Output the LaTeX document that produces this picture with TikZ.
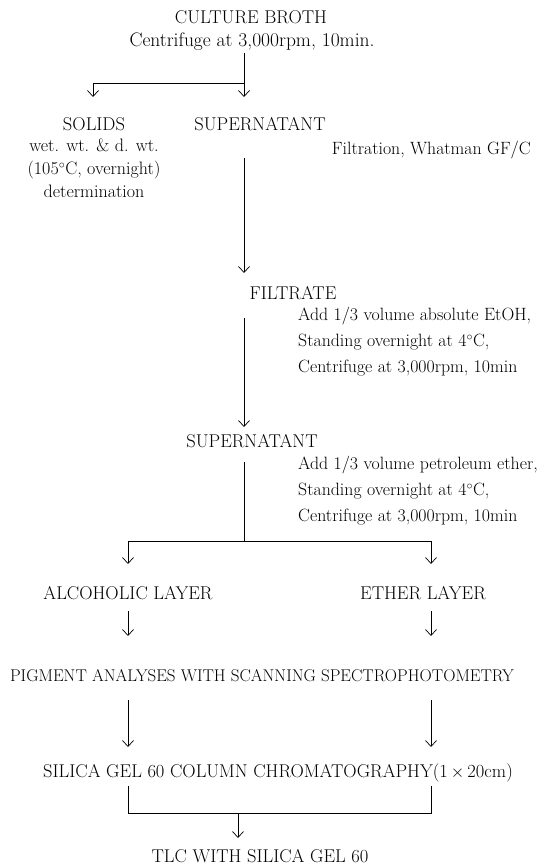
\documentclass[tikz,border=0pt]{standalone}
\usetikzlibrary{positioning,arrows.meta}

\tikzset{
  stage/.style={inner sep=0pt,font=\fontsize{18.5}{22}\selectfont},
  note/.style={inner sep=0pt,align=left,font=\fontsize{17.8}{26}\selectfont},
  flow/.style={-{Straight Barb[length=6pt,width=11pt]},line width=0.7pt},
  link/.style={line width=0.7pt}
}

\begin{document}
\begin{tikzpicture}[x=1pt,y=-1pt]
      \useasboundingbox (0,0) rectangle (537,867);
      % Culture broth
      \node[stage] (broth) at (251,17) {CULTURE BROTH};
      \node[stage,font=\fontsize{19.5}{22}\selectfont] (spin1) at (252,42) {Centrifuge at 3,000rpm, 10min.};
      % Solids
      \node[stage] (solids) at (94,124) {SOLIDS};
      \node[stage,align=center,font=\fontsize{18}{23}\selectfont,below=8pt of solids] (solidsnote) {wet. wt. \& d. wt.\\(105$^{\circ}$C, overnight)\\determination};
      % Supernatant
      \node[stage] (sup1) at (260,124) {SUPERNATANT};
      \node[note,anchor=east] (filtnote) at (531,150) {Filtration, Whatman GF/C};
      % Filtrate
      \node[stage] (filtrate) at (293,293) {FILTRATE};
      \node[note,anchor=north west] (etohnote) at (298,307) {Add 1/3 volume absolute EtOH,\\Standing overnight at 4$^{\circ}$C,\\Centrifuge at 3,000rpm, 10min};
      % Second supernatant
      \node[stage] (sup2) at (252,441) {SUPERNATANT};
      \node[note,anchor=north west] (ethernote) at (298,456) {Add 1/3 volume petroleum ether,\\Standing overnight at 4$^{\circ}$C,\\Centrifuge at 3,000rpm, 10min};
      % Layers
      \node[stage] (alc) at (128,593) {ALCOHOLIC LAYER};
      \node[stage] (ether) at (423,593) {ETHER LAYER};
      % Analyses
      \node[stage,font=\fontsize{17}{20}\selectfont] (pigment) at (262,676) {PIGMENT ANALYSES WITH SCANNING SPECTROPHOTOMETRY};
      \node[stage] (silica) at (278,773) {SILICA GEL 60 COLUMN CHROMATOGRAPHY(1\,$\times$\,20cm)};
      \node[stage] (tlc) at (260,856) {TLC WITH SILICA GEL 60};
      % junctions and ends
      \coordinate (j1) at (244,83);
      \coordinate (j2) at (244,541);
      \coordinate (jl) at (128,541);
      \coordinate (jr) at (431,541);
      \coordinate (j3) at (238,813);
      \coordinate (cl) at (128,813);
      \coordinate (cr) at (431,813);
      % centrifuge split
      \draw[link] (244,53) -- (j1) -- (93,83);
      \draw[flow] (93,83) -- (93,97);
      \draw[flow] (j1) -- (244,97);
      % filtration
      \draw[flow] (244,158) -- (244,273);
      \draw[flow] (244,318) -- (244,427);
      % ether split
      \draw[link] (244,462) -- (j2);
      \draw[link] (jl) -- (jr);
      \draw[flow] (jl) -- (128,564);
      \draw[flow] (jr) -- (431,564);
      % layers to pigment analyses
      \draw[flow] (128,611) -- (128,636);
      \draw[flow] (431,611) -- (431,636);
      % pigment analyses to column
      \draw[flow] (128,700) -- (128,747);
      \draw[flow] (431,700) -- (431,747);
      % column to TLC
      \draw[link] (128,786) -- (cl) -- (cr) -- (431,786);
      \draw[flow] (j3) -- (238,838);
\end{tikzpicture}
\end{document}
